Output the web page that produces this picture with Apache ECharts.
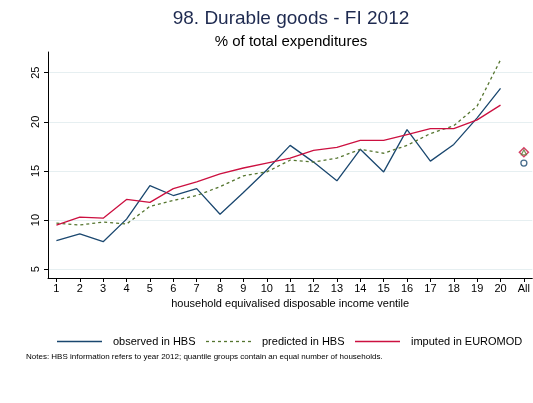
<!DOCTYPE html>
<html>
<head>
<meta charset="utf-8">
<script src="https://cdn.jsdelivr.net/npm/echarts@6/dist/echarts.min.js"></script>
<style>
  html, body { margin: 0; padding: 0; background: #ffffff; }
  #chart { width: 533px; height: 403px; }
</style>
</head>
<body>
<div id="chart"></div>
<script>
// Ventiles of household equivalised disposable income, plus the overall figure
const ventiles = [1, 2, 3, 4, 5, 6, 7, 8, 9, 10, 11, 12, 13, 14, 15, 16, 17, 18, 19, 20];
const allLabel = 'All';
const allPosition = 21;

// Durable goods share (% of total expenditures)
const observedHBS  = [7.9, 8.6, 7.8, 10.1, 13.5, 12.5, 13.2, 10.6, 12.8, 15.1, 17.6, 15.9, 14.0, 17.2, 14.9, 19.2, 16.0, 17.7, 20.4, 23.4];
const predictedHBS = [9.7, 9.5, 9.8, 9.6, 11.4, 12.0, 12.5, 13.4, 14.5, 14.9, 16.1, 15.9, 16.3, 17.2, 16.8, 17.6, 18.8, 19.6, 21.6, 26.3];
const imputedEM    = [9.5, 10.3, 10.2, 12.1, 11.8, 13.2, 13.9, 14.7, 15.3, 15.8, 16.3, 17.1, 17.4, 18.1, 18.1, 18.7, 19.3, 19.3, 20.2, 21.7];

// Whole-population values
const allObserved  = 15.8;
const allPredicted = 16.9;
const allImputed   = 16.9;

const yTicks = [5, 10, 15, 20, 25];
const xTicks = ventiles.concat([allPosition]);

const seriesNames = ['observed in HBS', 'predicted in HBS', 'imputed in EUROMOD'];

const NAVY = '#1a476f';
const GREEN = '#55752f';
const RED = '#cc1040';
const FONT = '"Liberation Sans", Arial, Helvetica, sans-serif';

const pairs = vals => vals.map((v, i) => [ventiles[i], v]);

// Legend key: a short line sample followed by the series name
function legendKey(x, y, color, dash, label) {
  return [
    {
      type: 'line',
      shape: { x1: x, y1: y, x2: x + 45, y2: y },
      style: { stroke: color, lineWidth: 1.3, lineDash: dash }
    },
    {
      type: 'text', x: x + 56, y: y,
      style: { text: label, font: '11px ' + FONT, fill: '#000000', textVerticalAlign: 'middle' }
    }
  ];
}

const chart = echarts.init(document.getElementById('chart'), null, { renderer: 'canvas' });

chart.setOption({
  backgroundColor: '#ffffff',
  animation: false,
  textStyle: { fontFamily: FONT },
  grid: { left: 48, top: 52, width: 486, height: 226, containLabel: false },
  graphic: [
    {
      type: 'text', x: 291, y: 19,
      style: { text: '98. Durable goods - FI 2012', font: '19px ' + FONT, fill: '#1e2a50',
               textAlign: 'center', textVerticalAlign: 'middle' }
    },
    {
      type: 'text', x: 291, y: 42,
      style: { text: '% of total expenditures', font: '15px ' + FONT, fill: '#000000',
               textAlign: 'center', textVerticalAlign: 'middle' }
    },
    ...legendKey(57, 341.5, NAVY, null, seriesNames[0]),
    ...legendKey(206, 341.5, GREEN, [3, 3], seriesNames[1]),
    ...legendKey(355, 341.5, RED, null, seriesNames[2]),
    {
      type: 'text', x: 26, y: 357,
      style: { text: 'Notes: HBS information refers to year 2012; quantile groups contain an equal number of households.',
               font: '8px ' + FONT, fill: '#000000', textVerticalAlign: 'middle' }
    }
  ],
  xAxis: {
    type: 'value',
    min: 0.64, max: 21.36,
    name: 'household equivalised disposable income ventile',
    nameLocation: 'middle', nameGap: 16,
    nameTextStyle: { fontFamily: FONT, fontSize: 11, color: '#000000' },
    axisLine: { onZero: false, lineStyle: { color: '#000000', width: 1 } },
    axisTick: { show: true, length: 4, customValues: xTicks, lineStyle: { color: '#000000' } },
    axisLabel: {
      customValues: xTicks, margin: 5,
      fontFamily: FONT, fontSize: 11, color: '#000000',
      formatter: v => (v === allPosition ? allLabel : String(v))
    },
    splitLine: { show: false }
  },
  yAxis: {
    type: 'value',
    min: 4.11, max: 27.1,
    axisLine: { show: true, lineStyle: { color: '#000000', width: 1 } },
    axisTick: { show: true, length: 4, customValues: yTicks, lineStyle: { color: '#000000' } },
    axisLabel: {
      customValues: yTicks, rotate: 90, margin: 7,
      fontFamily: FONT, fontSize: 11, color: '#000000'
    },
    splitLine: { show: true, lineStyle: { color: '#e6eff1', width: 1 } }
  },
  series: [
    {
      name: seriesNames[0], type: 'line', data: pairs(observedHBS),
      symbol: 'none', lineStyle: { color: NAVY, width: 1.3 }, itemStyle: { color: NAVY }
    },
    {
      name: seriesNames[1], type: 'line', data: pairs(predictedHBS),
      symbol: 'none', lineStyle: { color: GREEN, width: 1.3, type: [3, 3] }, itemStyle: { color: GREEN }
    },
    {
      name: seriesNames[2], type: 'line', data: pairs(imputedEM),
      symbol: 'none', lineStyle: { color: RED, width: 1.3 }, itemStyle: { color: RED }
    },
    {
      type: 'scatter', data: [[allPosition, allImputed]],
      symbol: 'diamond', symbolSize: 9,
      itemStyle: { color: '#ffffff', borderColor: RED, borderWidth: 1.5 }
    },
    {
      type: 'scatter', data: [[allPosition, allPredicted]],
      symbol: 'triangle', symbolSize: 5,
      itemStyle: { color: '#ffffff', borderColor: GREEN, borderWidth: 1.2 }
    },
    {
      type: 'scatter', data: [[allPosition, allObserved]],
      symbol: 'circle', symbolSize: 6,
      itemStyle: { color: '#ffffff', borderColor: NAVY, borderWidth: 1.3 }
    }
  ]
});
</script>
</body>
</html>
